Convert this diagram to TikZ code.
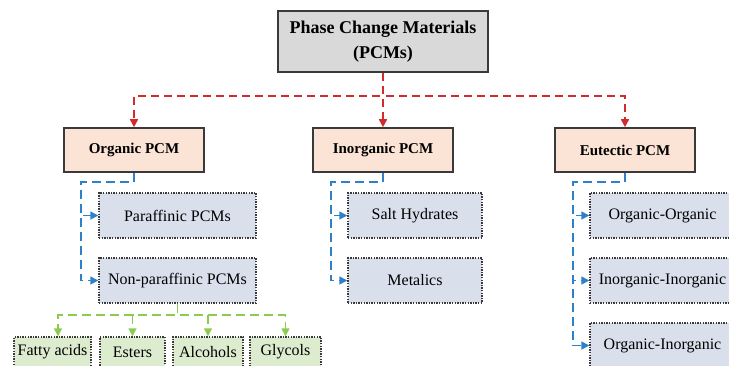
\documentclass[tikz,border=0pt]{standalone}
\usepackage{fontspec}
\setmainfont{Liberation Serif}
\usetikzlibrary{arrows.meta}
\definecolor{topfill}{HTML}{D9D9D9}
\definecolor{catfill}{HTML}{FBE4D5}
\definecolor{subfill}{HTML}{D9E0EC}
\definecolor{grnfill}{HTML}{DDEBCF}
\definecolor{redline}{HTML}{D22B2B}
\definecolor{blueline}{HTML}{2E80C8}
\definecolor{grnline}{HTML}{8CCB4E}
\definecolor{edge}{HTML}{3A3A3A}
\tikzset{
  topbox/.style={draw=edge, line width=1.8pt, fill=topfill, minimum width=210pt, minimum height=61pt, align=center, font=\fontsize{18}{25}\selectfont\bfseries, inner sep=0pt},
  catbox/.style={draw=edge, line width=1.6pt, fill=catfill, minimum width=140pt, minimum height=44pt, font=\fontsize{15}{18}\selectfont\bfseries, inner sep=0pt},
  subbox/.style={draw=edge, line width=1.4pt, dash pattern=on 1.4pt off 1.2pt, fill=subfill, minimum height=45pt, font=\fontsize{16}{19}\selectfont, inner sep=0pt},
  grnbox/.style={draw=edge, line width=1.4pt, dash pattern=on 1.4pt off 1.2pt, fill=grnfill, minimum height=30pt, font=\fontsize{16}{19}\selectfont, inner sep=0pt},
  redarr/.style={draw=redline, line width=1.6pt, dash pattern=on 8pt off 5pt, -{Triangle[length=8pt,width=8pt]}},
  bluearr/.style={draw=blueline, line width=1.6pt, dash pattern=on 9pt off 5pt, -{Triangle[length=8pt,width=8pt]}},
  grnarr/.style={draw=grnline, line width=1.6pt, dash pattern=on 9pt off 5pt, -{Triangle[length=8pt,width=8pt]}},
}
\begin{document}
\begin{tikzpicture}[x=1pt,y=-1pt]
\useasboundingbox (0,0) rectangle (729,365);
% top
\node[topbox] (top) at (383,41.5) {Phase Change Materials\\(PCMs)};
% categories
\node[catbox] (org) at (134,150) {Organic PCM};
\node[catbox] (inorg) at (383,150) {Inorganic PCM};
\node[catbox] (eut) at (625,150) {Eutectic PCM};
% sub boxes
\node[subbox, minimum width=157pt] (par) at (177.5,215.5) {Paraffinic PCMs};
\node[subbox, minimum width=157pt] (npar) at (177.5,280.5) {Non-paraffinic PCMs};
\node[subbox, minimum width=134pt] (salt) at (415,215.5) {Salt Hydrates};
\node[subbox, minimum width=134pt] (metal) at (415,280.5) {Metalics};
\node[subbox, minimum width=145pt] (oo) at (662.5,215.5) {Organic-Organic};
\node[subbox, minimum width=145pt] (ii) at (662.5,280.5) {Inorganic-Inorganic};
\node[subbox, minimum width=145pt] (oi) at (662.5,345.5) {Organic-Inorganic};
% green boxes
\node[grnbox, minimum width=77pt] (fa) at (52.5,352) {Fatty acids};
\node[grnbox, minimum width=65pt] (est) at (132.5,352) {Esters};
\node[grnbox, minimum width=70pt] (alc) at (208,352) {Alcohols};
\node[grnbox, minimum width=71pt] (gly) at (285.5,352) {Glycols};
% red connectors
\draw[redarr] (top.south) -- (inorg.north);
\draw[redarr] (top.south) -- (top.south |- 0,96) -| (org.north);
\draw[redarr] (top.south) -- (top.south |- 0,96) -| (eut.north);
% blue connectors
\foreach \p/\c/\x in {org/par/81, org/npar/81, inorg/salt/331, inorg/metal/331, eut/oo/573, eut/ii/573, eut/oi/573}{
  \draw[bluearr] (\p.south) -- (\p.south |- 0,182) -- (\x,182) |- (\c.west);
}
% green connectors
\draw[grnarr] (npar.south) -- (npar.south |- 0,315) -| ([xshift=5.5pt]fa.north);
\draw[grnarr] (npar.south) -- (npar.south |- 0,315) -| (est.north);
\draw[grnarr] (npar.south) -- (npar.south |- 0,315) -| (alc.north);
\draw[grnarr] (npar.south) -- (npar.south |- 0,315) -| (gly.north);
\end{tikzpicture}
\end{document}
